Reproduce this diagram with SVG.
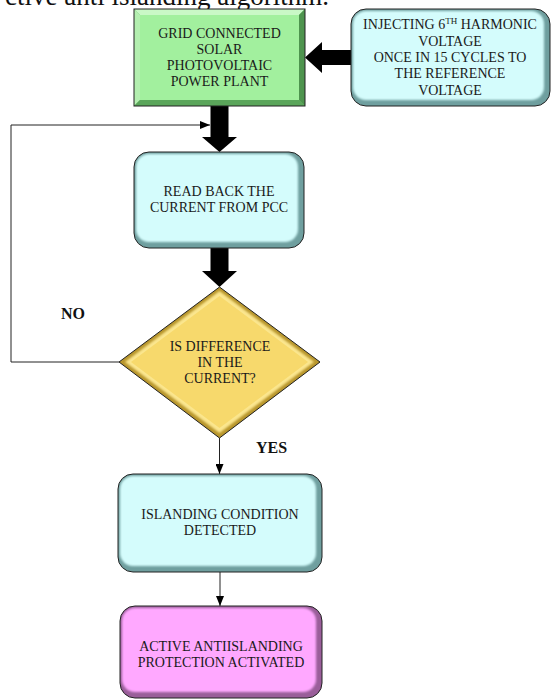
<svg xmlns="http://www.w3.org/2000/svg" width="552" height="699" viewBox="0 0 552 699">
<style>
.t{font-family:"Liberation Serif","Times New Roman",serif;font-size:14px;fill:#1a1a1a;text-anchor:middle}
.lbl{font-family:"Liberation Serif","Times New Roman",serif;font-size:16px;font-weight:bold;fill:#111}
.thin{fill:none;stroke:#222;stroke-width:1}
.big{fill:#000}
.edge{fill:none;stroke:#222;stroke-width:1}
</style>
<defs>
<marker id="ah" markerUnits="userSpaceOnUse" markerWidth="10" markerHeight="8" refX="10" refY="4" orient="auto">
<path d="M0,0 L10,4 L0,8 z" fill="#000"/>
</marker>
<filter id="soft" x="-5%" y="-5%" width="110%" height="110%"><feGaussianBlur stdDeviation="1.3"/></filter>
</defs>

<text x="5" y="5" font-family="'Liberation Serif','Times New Roman',serif" font-size="27" fill="#111">ctive anti islanding algorithm.</text>

<g id="connectors">
<polygon class="big" points="210.5,106 228.5,106 228.5,137 237,137 219.5,152 202,137 210.5,137"/>
<polygon class="big" points="210.5,248 228.5,248 228.5,271 237,271 219.5,287 202,271 210.5,271"/>
<polygon class="big" points="352,50 322,50 322,42 305,57.5 322,73 322,65 352,65"/>
<path class="thin" d="M119,362 H11 V125 H210" marker-end="url(#ah)"/>
<path class="thin" d="M219.5,438 V474" marker-end="url(#ah)"/>
<path class="thin" d="M220,572 V606" marker-end="url(#ah)"/>
</g>

<g id="n-pv">
<rect x="134" y="9" width="171" height="97" fill="#6cb86c"/>
<polygon points="134,9 305,9 299,15 140,15" fill="#c9f8c6"/>
<polygon points="134,9 140,15 140,100 134,106" fill="#b4efb0"/>
<polygon points="305,9 305,106 299,100 299,15" fill="#4e944e"/>
<polygon points="134,106 305,106 299,100 140,100" fill="#5aa55a"/>
<rect x="140" y="15" width="159" height="85" fill="#a2f09e"/>
<rect class="edge" x="134" y="9" width="171" height="97"/>
<text class="t" x="219.5" y="38">GRID CONNECTED</text>
<text class="t" x="219.5" y="54">SOLAR</text>
<text class="t" x="219.5" y="70">PHOTOVOLTAIC</text>
<text class="t" x="219.5" y="86">POWER PLANT</text>
</g>

<g id="n-inject">
<rect x="351" y="9" width="199" height="97" rx="15" fill="#6f9f9f"/>
<rect x="353" y="11" width="191" height="89" rx="13" fill="#d4fcfc" filter="url(#soft)"/>
<rect class="edge" x="351" y="9" width="199" height="97" rx="15"/>
<text class="t" x="450" y="29">INJECTING 6<tspan font-size="9" dy="-5">TH</tspan><tspan dy="5"> HARMONIC</tspan></text>
<text class="t" x="450" y="46">VOLTAGE</text>
<text class="t" x="450" y="62">ONCE IN 15 CYCLES TO</text>
<text class="t" x="450" y="78">THE REFERENCE</text>
<text class="t" x="450" y="95">VOLTAGE</text>
</g>

<g id="n-read">
<rect x="134" y="152" width="170" height="96" rx="15" fill="#6f9f9f"/>
<rect x="136" y="154" width="162" height="88" rx="13" fill="#d4fcfc" filter="url(#soft)"/>
<rect class="edge" x="134" y="152" width="170" height="96" rx="15"/>
<text class="t" x="219" y="196">READ BACK THE</text>
<text class="t" x="219" y="212">CURRENT FROM PCC</text>
</g>

<g id="n-decision">
<polygon points="219.5,287 320,362 219.5,438 119,362" fill="#b8962c"/>
<polygon points="219.5,291 314,362 219.5,433 125,362" fill="#fbe68e" filter="url(#soft)"/>
<polygon points="219.5,296 308,362 219.5,428 131,362" fill="#f7d96c"/>
<polygon points="219.5,287 320,362 219.5,438 119,362" class="edge"/>
<text class="t" x="220" y="351">IS DIFFERENCE</text>
<text class="t" x="220" y="367">IN THE</text>
<text class="t" x="220" y="383">CURRENT?</text>
</g>

<text class="lbl" x="61" y="319">NO</text>
<text class="lbl" x="256" y="453">YES</text>

<g id="n-detected">
<rect x="118" y="474" width="204" height="98" rx="15" fill="#6f9f9f"/>
<rect x="120" y="476" width="196" height="90" rx="13" fill="#d4fcfc" filter="url(#soft)"/>
<rect class="edge" x="118" y="474" width="204" height="98" rx="15"/>
<text class="t" x="220" y="519">ISLANDING CONDITION</text>
<text class="t" x="220" y="535">DETECTED</text>
</g>

<g id="n-protect">
<rect x="120" y="606" width="202" height="92" rx="15" fill="#9a5e9a"/>
<rect x="122" y="608" width="194" height="84" rx="13" fill="#ffa8ff" filter="url(#soft)"/>
<rect class="edge" x="120" y="606" width="202" height="92" rx="15"/>
<text class="t" x="221" y="651">ACTIVE ANTIISLANDING</text>
<text class="t" x="221" y="667">PROTECTION ACTIVATED</text>
</g>
</svg>
